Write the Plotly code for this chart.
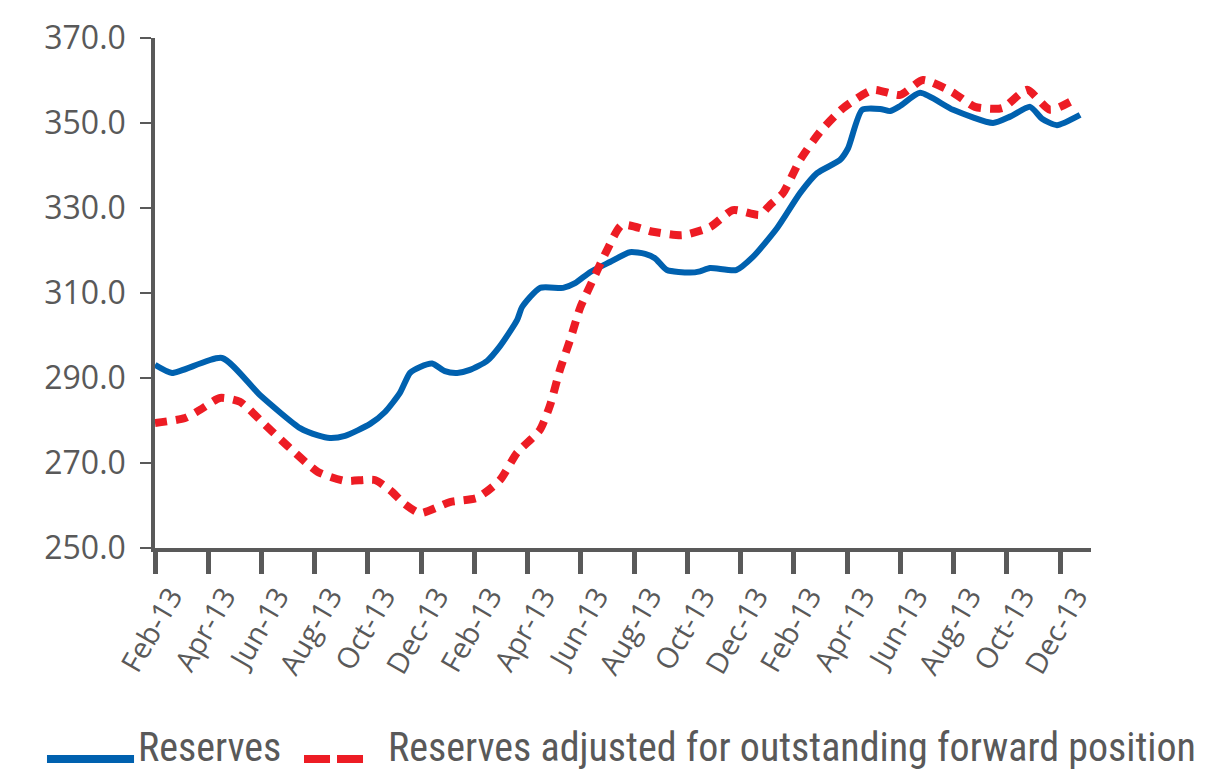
import plotly.graph_objects as go

# month index (0 = Feb-13 tick) and values
res_x = [0.0, 0.64, 2.52, 3.94, 5.45, 6.12, 6.57, 7.14, 8.08, 8.64, 9.2, 9.58, 9.96, 10.41,
         10.89, 11.35, 11.83, 12.47, 12.96, 13.6, 13.79, 14.46, 15.33, 15.78, 16.34, 17.09,
         17.84, 18.41, 18.78, 19.23, 20.1, 20.47, 20.85, 21.83, 22.46, 23.37, 24.23, 24.87,
         25.73, 26.03, 26.56, 27.24, 27.61, 27.99, 28.74, 29.98, 31.48, 32.12, 32.87, 33.32,
         33.88, 34.75]
res_y = [293.1, 291.2, 294.7, 286.0, 278.2, 276.5, 275.9, 276.4, 279.2, 282.0, 286.5, 291.2,
         292.6, 293.4, 291.6, 291.2, 291.9, 294.0, 297.5, 303.6, 306.7, 311.2, 311.2, 312.3,
         314.9, 317.3, 319.6, 319.2, 318.2, 315.4, 314.8, 315.1, 315.9, 315.4, 318.5, 325.3,
         333.5, 338.2, 341.3, 344.0, 353.1, 353.3, 352.8, 354.0, 357.1, 353.1, 350.0, 351.5,
         353.8, 351.0, 349.5, 351.9]

adj_x = [0.0, 1.13, 1.69, 2.44, 3.19, 4.13, 5.07, 6.12, 7.14, 8.26, 8.83, 9.39, 9.96, 11.08,
         12.1, 12.96, 13.6, 14.46, 14.84, 15.21, 15.59, 15.97, 16.45, 16.98, 17.54, 18.71,
         19.8, 20.85, 21.71, 22.73, 23.1, 23.59, 24.23, 24.98, 25.85, 26.97, 27.99, 28.85,
         29.94, 30.8, 31.82, 32.76, 33.62, 34.64]
adj_y = [279.4, 280.6, 282.5, 285.3, 284.4, 279.0, 273.5, 267.9, 265.8, 266.0, 263.6, 260.3,
         258.2, 260.8, 261.8, 266.0, 272.4, 277.8, 283.6, 291.9, 298.9, 306.5, 313.1, 320.1,
         326.0, 324.4, 323.6, 325.5, 329.5, 328.4, 330.7, 333.5, 341.3, 347.9, 353.5, 357.8,
         356.6, 360.1, 357.3, 353.8, 353.5, 357.8, 353.1, 355.9]

tick_pos = list(range(0, 35, 2))
tick_labels = ["Feb-13", "Apr-13", "Jun-13", "Aug-13", "Oct-13", "Dec-13",
               "Feb-13", "Apr-13", "Jun-13", "Aug-13", "Oct-13", "Dec-13",
               "Feb-13", "Apr-13", "Jun-13", "Aug-13", "Oct-13", "Dec-13"]
y_ticks = [250, 270, 290, 310, 330, 350, 370]
names = ["Reserves", "Reserves adjusted for outstanding forward position"]

BLUE = "#0061AF"
RED = "#ED1C24"
GREY = "#595959"

fig = go.Figure()
fig.add_trace(go.Scatter(x=res_x, y=res_y, mode="lines", name=names[0],
                         line=dict(color=BLUE, width=6, shape="spline", smoothing=0.6)))
fig.add_trace(go.Scatter(x=adj_x, y=adj_y, mode="lines", name=names[1],
                         line=dict(color=RED, width=8, dash="12px,9px", shape="spline", smoothing=0.6)))

fig.update_layout(
    width=1220, height=774,
    margin=dict(l=155, r=129, t=38, b=226),
    plot_bgcolor="white", paper_bgcolor="white",
    showlegend=False,
    font=dict(family="Open Sans, Roboto, sans-serif", color=GREY),
)
fig.update_xaxes(range=[0, 35.16], tickvals=tick_pos, ticktext=tick_labels, tickangle=-60,
                 showgrid=False, zeroline=False, showline=True, linecolor=GREY, linewidth=3.5,
                 ticks="outside", ticklen=22, tickwidth=5, tickcolor=GREY,
                 ticklabelshift=16, ticklabelstandoff=-6,
                 tickfont=dict(size=29, color=GREY, family="Open Sans, Roboto, sans-serif"))
fig.update_yaxes(range=[250, 370], tickvals=y_ticks, ticktext=[f"{v:.1f}" for v in y_ticks],
                 showgrid=False, zeroline=False, showline=True, linecolor=GREY, linewidth=3.5,
                 ticks="outside", ticklen=11, tickwidth=2, tickcolor=GREY,
                 ticklabelstandoff=8,
                 tickfont=dict(size=32, color=GREY, family="Open Sans, Roboto, sans-serif"))

# manual legend
leg_font = dict(family="Roboto Condensed, Liberation Sans Narrow, Roboto, sans-serif", size=40, color=GREY)
ly_line = -0.4137
ly_text = -0.392
fig.add_shape(type="line", xref="paper", yref="paper", x0=-0.1154, x1=-0.0224, y0=ly_line, y1=ly_line,
              line=dict(color=BLUE, width=8))
fig.add_shape(type="line", xref="paper", yref="paper", x0=0.1592, x1=0.2223, y0=ly_line, y1=ly_line,
              line=dict(color=RED, width=8, dash="26px,7px"))
fig.add_annotation(xref="paper", yref="paper", x=-0.0203, y=ly_text, text=names[0], showarrow=False,
                   xanchor="left", yanchor="middle", font=leg_font)
fig.add_annotation(xref="paper", yref="paper", x=0.2465, y=ly_text, text=names[1], showarrow=False,
                   xanchor="left", yanchor="middle", font=leg_font)

fig.write_html("out.html")
